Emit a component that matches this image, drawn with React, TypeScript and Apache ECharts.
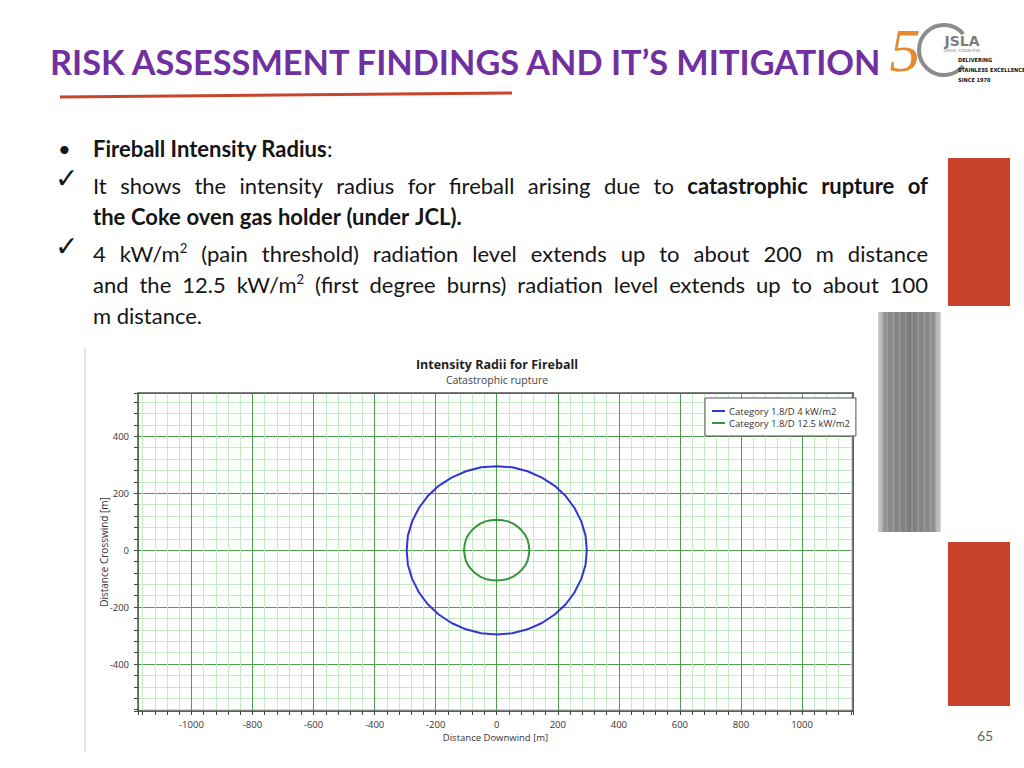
import React, { useEffect, useRef } from "react";
import * as echarts from "echarts";

// ---------- content ----------
const SLIDE_TITLE = "RISK ASSESSMENT FINDINGS AND IT’S MITIGATION";
const BULLET_HEAD = "Fireball Intensity Radius";
const BODY_LINES = [
  "It shows the intensity radius for fireball arising due to **catastrophic rupture of**",
  "**the Coke oven gas holder (under JCL).**",
  "4 kW/m^2^ (pain threshold) radiation level extends up to about 200 m distance",
  "and the 12.5 kW/m^2^ (first degree burns) radiation level extends up to about 100",
  "m distance.",
];
const BODY_JUSTIFY = [true, false, true, true, false];
const PAGE_NO = "65";
const LOGO_TAGLINE = ["DELIVERING", "STAINLESS EXCELLENCE", "SINCE 1970"];

const CHART_TITLE = "Intensity Radii for Fireball";
const CHART_SUBTITLE = "Catastrophic rupture";
const X_NAME = "Distance Downwind [m]";
const Y_NAME = "Distance Crosswind [m]";
const SERIES_NAMES = ["Category 1.8/D 4 kW/m2", "Category 1.8/D 12.5 kW/m2"];
const X_RANGE = [-1175, 1167];
const Y_RANGE = [-565, 552];

// contour points [downwind, crosswind]
const CONTOUR_4KW: number[][] = [
  [295, 0], [291, 51], [277, 101], [255, 148], [226, 190], [190, 226], [148, 255], [101, 277], [51, 291],
  [0, 295], [-51, 291], [-101, 277], [-148, 255], [-190, 226], [-226, 190], [-255, 148], [-277, 101], [-291, 51],
  [-295, 0], [-291, -51], [-277, -101], [-255, -148], [-226, -190], [-190, -226], [-148, -256], [-101, -278], [-51, -292],
  [0, -296], [51, -292], [101, -278], [148, -256], [190, -226], [226, -190], [255, -148], [277, -101], [291, -51],
  [295, 0],
];
const CONTOUR_12KW: number[][] = [
  [107, 0], [105, 19], [101, 37], [93, 54], [82, 69], [69, 82], [54, 93], [37, 101], [19, 105],
  [0, 107], [-19, 105], [-37, 101], [-54, 93], [-69, 82], [-82, 69], [-93, 54], [-101, 37], [-105, 19],
  [-107, 0], [-105, -19], [-101, -37], [-93, -54], [-82, -69], [-69, -82], [-54, -93], [-37, -101], [-19, -105],
  [0, -107], [19, -105], [37, -101], [54, -93], [69, -82], [82, -69], [93, -54], [101, -37], [105, -19],
  [107, 0],
];

// ---------- helpers ----------
type Seg = { t: string; b: boolean; sup: boolean };

function parseLine(s: string): Seg[][] {
  const words: Seg[][] = [];
  let bold = false;
  let sup = false;
  let cur: Seg[] = [];
  let buf = "";
  const flush = () => {
    if (buf) {
      cur.push({ t: buf, b: bold, sup });
      buf = "";
    }
  };
  for (let i = 0; i < s.length; i++) {
    const c = s[i];
    if (c === "*" && s[i + 1] === "*") {
      flush();
      bold = !bold;
      i++;
      continue;
    }
    if (c === "^") {
      flush();
      sup = !sup;
      continue;
    }
    if (c === " ") {
      flush();
      if (cur.length) words.push(cur);
      cur = [];
      continue;
    }
    buf += c;
  }
  flush();
  if (cur.length) words.push(cur);
  return words;
}

const canvas = typeof document !== "undefined" ? document.createElement("canvas") : null;
const ctx = canvas ? canvas.getContext("2d") : null;
function measure(text: string, font: string): number {
  if (!ctx) return text.length * 10;
  ctx.font = font;
  return ctx.measureText(text).width;
}

const BODY_FAMILY = "Lato";

function buildGraphics(): any[] {
  const g: any[] = [];
  // slide title fitted to its width in the reference
  const titleW = measure(SLIDE_TITLE, `bold 100px ${BODY_FAMILY}`);
  const titleSize = (100 * 834) / titleW;
  g.push({
    type: "text",
    x: 50,
    y: 61,
    style: {
      text: SLIDE_TITLE,
      font: `bold ${titleSize.toFixed(2)}px ${BODY_FAMILY}`,
      fill: "#7030A0",
      textVerticalAlign: "middle",
    },
  });
  // red underline
  g.push({
    type: "line",
    shape: { x1: 60, y1: 97, x2: 512, y2: 93 },
    style: { stroke: "#C8452C", lineWidth: 3 },
  });

  // logo
  g.push({
    type: "text",
    x: 905,
    y: 50,
    style: {
      text: "5",
      font: "italic 62px 'Liberation Serif'",
      fill: "#E58A2E",
      textAlign: "center",
      textVerticalAlign: "middle",
    },
  });
  g.push({
    type: "arc",
    shape: { cx: 944, cy: 50, r: 25, startAngle: (40 * Math.PI) / 180, endAngle: (320 * Math.PI) / 180, clockwise: true },
    style: { stroke: "#8c8c8c", lineWidth: 4, fill: "none" },
  });
  g.push({
    type: "text",
    x: 962,
    y: 41,
    style: { text: "JSLA", font: "bold 14px 'DejaVu Sans'", fill: "#7d7d7d", textAlign: "center", textVerticalAlign: "middle" },
  });
  g.push({
    type: "text",
    x: 962,
    y: 50,
    style: { text: "JINDAL STAINLESS", font: "4px 'DejaVu Sans'", fill: "#888", textAlign: "center", textVerticalAlign: "middle" },
  });
  LOGO_TAGLINE.forEach((t, i) => {
    g.push({
      type: "text",
      x: 958,
      y: 60 + i * 10,
      style: { text: t, font: "bold 5.6px 'Liberation Sans Narrow', 'DejaVu Sans Condensed', 'Liberation Sans'", fill: "#111", textVerticalAlign: "middle" },
    });
  });

  // decorative blocks
  g.push({ type: "rect", shape: { x: 948, y: 158, width: 62, height: 148 }, style: { fill: "#C9432A" } });
  g.push({ type: "rect", shape: { x: 948, y: 542, width: 62, height: 164 }, style: { fill: "#C9432A" } });
  g.push({
    type: "rect",
    shape: { x: 878, y: 312, width: 63, height: 220 },
    style: {
      fill: new echarts.graphic.LinearGradient(0, 0, 1, 0, [
        { offset: 0, color: "#cfcfcf" },
        { offset: 0.12, color: "#8e8e8e" },
        { offset: 0.5, color: "#7c7c7c" },
        { offset: 0.88, color: "#8e8e8e" },
        { offset: 1, color: "#d4d4d4" },
      ]),
    },
  });
  for (let i = 0; i < 10; i++) {
    g.push({
      type: "line",
      shape: { x1: 881 + i * 6.2, y1: 312, x2: 881 + i * 6.2, y2: 532 },
      style: { stroke: "rgba(255,255,255,0.18)", lineWidth: 1.5 },
    });
  }

  // body text
  const L = 93;
  const R = 928;
  const fitW = measure("the Coke oven gas holder (under JCL).", `bold 100px ${BODY_FAMILY}`);
  let fs = (100 * 372) / fitW;
  fs = Math.max(18.5, Math.min(22, fs));
  const fontOf = (s: Seg) => (s.sup ? `${(fs * 0.6).toFixed(2)}px ${BODY_FAMILY}` : `${s.b ? "bold " : ""}${fs.toFixed(2)}px ${BODY_FAMILY}`);
  const textColor = "#151515";

  // bullet line
  g.push({ type: "text", x: 58, y: 148, style: { text: "•", font: `${fs}px ${BODY_FAMILY}`, fill: textColor, textVerticalAlign: "middle" } });
  const headW = measure(BULLET_HEAD, `bold ${fs}px ${BODY_FAMILY}`);
  g.push({ type: "text", x: L, y: 148, style: { text: BULLET_HEAD, font: `bold ${fs}px ${BODY_FAMILY}`, fill: textColor, textVerticalAlign: "middle" } });
  g.push({ type: "text", x: L + headW, y: 148, style: { text: ":", font: `${fs}px ${BODY_FAMILY}`, fill: textColor, textVerticalAlign: "middle" } });

  // check marks
  [178, 246].forEach((y) => {
    g.push({ type: "text", x: 55, y, style: { text: "✓", font: "28px 'DejaVu Sans'", fill: textColor, textVerticalAlign: "middle" } });
  });

  const lineYs = [185, 216, 253, 284, 315];
  BODY_LINES.forEach((line, li) => {
    const words = parseLine(line);
    const widths = words.map((w) => w.reduce((acc, s) => acc + measure(s.t, fontOf(s)), 0));
    const total = widths.reduce((a, b) => a + b, 0);
    const spaceW = measure(" ", `${fs}px ${BODY_FAMILY}`);
    const gap = BODY_JUSTIFY[li] && words.length > 1 ? (R - L - total) / (words.length - 1) : spaceW;
    let x = L;
    words.forEach((w, wi) => {
      let sx = x;
      w.forEach((s) => {
        g.push({
          type: "text",
          x: sx,
          y: lineYs[li] + (s.sup ? -fs * 0.24 : 0),
          style: { text: s.t, font: fontOf(s), fill: textColor, textVerticalAlign: "middle" },
        });
        sx += measure(s.t, fontOf(s));
      });
      x += widths[wi] + gap;
    });
  });

  // chart picture frame edge
  g.push({ type: "line", shape: { x1: 85, y1: 348, x2: 85, y2: 752 }, style: { stroke: "#e6e6e6", lineWidth: 2 } });

  // chart title
  g.push({
    type: "text",
    x: 497,
    y: 364,
    style: { text: CHART_TITLE, font: "bold 12.5px 'Open Sans'", fill: "#1f1f1f", textAlign: "center", textVerticalAlign: "middle" },
  });
  g.push({
    type: "text",
    x: 497,
    y: 380,
    style: { text: CHART_SUBTITLE, font: "10.5px 'Open Sans'", fill: "#444", textAlign: "center", textVerticalAlign: "middle" },
  });

  // page number
  g.push({
    type: "text",
    x: 985,
    y: 735,
    style: { text: PAGE_NO, font: `14px ${BODY_FAMILY}`, fill: "#666", textAlign: "center", textVerticalAlign: "middle" },
  });
  return g;
}

function buildOption(): any {
  const axisFont = "Open Sans";
  const major = { show: true, lineStyle: { color: "#4c9f4c", width: 1 } };
  const minor = { show: true, lineStyle: { color: "#c2ebc2", width: 1 } };
  const tick = { show: true, length: 4, lineStyle: { color: "#444" } };
  const minorTick = { show: true, splitNumber: 5, length: 4, lineStyle: { color: "#444" } };
  const border = { show: true, onZero: false, lineStyle: { color: "#555", width: 1.5 } };
  const plain = (v: number) => String(v);
  return {
    animation: false,
    backgroundColor: "#ffffff",
    grid: { left: 138, top: 393, width: 715, height: 318, containLabel: false },
    legend: {
      orient: "vertical",
      left: 705,
      top: 398,
      backgroundColor: "#ffffff",
      borderColor: "#555",
      borderWidth: 1,
      padding: [8, 6, 8, 7],
      itemGap: 2,
      itemWidth: 13,
      itemHeight: 2,
      icon: "rect",
      textStyle: { fontFamily: axisFont, fontSize: 9.5, color: "#333", padding: [0, 0, 0, -1] },
      data: SERIES_NAMES,
    },
    xAxis: [
      {
        type: "value",
        min: X_RANGE[0],
        max: X_RANGE[1],
        splitNumber: 12,
        position: "bottom",
        axisLine: border,
        axisTick: tick,
        minorTick,
        axisLabel: { fontFamily: axisFont, fontSize: 9.5, color: "#333", margin: 8, showMinLabel: false, showMaxLabel: false, formatter: plain },
        splitLine: major,
        minorSplitLine: minor,
        name: X_NAME,
        nameLocation: "middle",
        nameGap: 21,
        nameTextStyle: { fontFamily: axisFont, fontSize: 9.5, color: "#333" },
      },
      {
        type: "value",
        min: X_RANGE[0],
        max: X_RANGE[1],
        position: "top",
        axisLine: border,
        axisTick: { show: false },
        axisLabel: { show: false },
        splitLine: { show: false },
      },
    ],
    yAxis: [
      {
        type: "value",
        min: Y_RANGE[0],
        max: Y_RANGE[1],
        splitNumber: 6,
        position: "left",
        axisLine: border,
        axisTick: tick,
        minorTick,
        axisLabel: { fontFamily: axisFont, fontSize: 9.5, color: "#333", margin: 9, showMinLabel: false, showMaxLabel: false, formatter: plain },
        splitLine: major,
        minorSplitLine: minor,
        name: Y_NAME,
        nameLocation: "middle",
        nameGap: 29,
        nameMoveOverlap: false,
        nameTextStyle: { fontFamily: axisFont, fontSize: 10, color: "#333" },
      },
      {
        type: "value",
        min: Y_RANGE[0],
        max: Y_RANGE[1],
        position: "right",
        axisLine: border,
        axisTick: { show: false },
        axisLabel: { show: false },
        splitLine: { show: false },
      },
    ],
    series: [
      {
        name: SERIES_NAMES[0],
        type: "line",
        xAxisIndex: 0,
        yAxisIndex: 0,
        data: CONTOUR_4KW,
        smooth: false,
        showSymbol: false,
        symbol: "none",
        color: "#3434d8",
        lineStyle: { color: "#3434d8", width: 2, join: "round" },
        z: 5,
      },
      {
        name: SERIES_NAMES[1],
        type: "line",
        xAxisIndex: 0,
        yAxisIndex: 0,
        data: CONTOUR_12KW,
        smooth: false,
        showSymbol: false,
        symbol: "none",
        color: "#35973a",
        lineStyle: { color: "#35973a", width: 2, join: "round" },
        z: 5,
      },
    ],
    graphic: buildGraphics(),
  };
}

export default function App() {
  const ref = useRef<HTMLDivElement>(null);
  useEffect(() => {
    if (!ref.current) return;
    const chart = echarts.init(ref.current, null, { renderer: "svg" });
    chart.setOption(buildOption());
    return () => chart.dispose();
  }, []);
  return <div ref={ref} style={{ position: "absolute", left: 0, top: 0, width: 1024, height: 768, background: "#fff" }} />;
}
